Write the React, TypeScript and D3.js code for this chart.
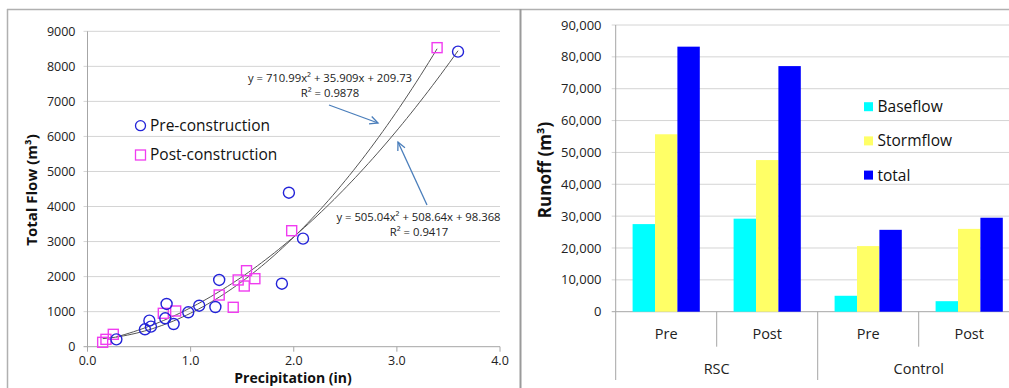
import React from "react";
import * as d3 from "d3";

// Left panel: storm events, precipitation vs total flow
const preX = [0.28, 0.557, 0.6, 0.615, 0.754, 0.767, 0.835, 0.977, 1.083, 1.24, 1.277, 1.885, 1.953, 2.09, 3.593];
const preY = [210, 497, 743, 572, 810, 1219, 648, 981, 1170, 1133, 1904, 1798, 4395, 3083, 8420];
const postX = [0.147, 0.179, 0.25, 0.735, 0.855, 1.277, 1.413, 1.461, 1.542, 1.52, 1.623, 1.98, 3.39];
const postY = [125, 210, 353, 953, 1019, 1475, 1124, 1904, 2169, 1732, 1941, 3310, 8533];
// quadratic trendline coefficients [a, b, c] for y = a x^2 + b x + c
const preFit = [505.04, 508.64, 98.368];
const postFit = [710.99, 35.909, 209.73];
const flowTicks = [0, 1000, 2000, 3000, 4000, 5000, 6000, 7000, 8000, 9000];
const precipTicks = [0, 1, 2, 3, 4];

// Right panel: runoff totals by site and period
const sites = ["RSC", "Control"];
const periods = ["Pre", "Post"];
const components = ["Baseflow", "Stormflow", "total"];
const baseflow = [27500, 29200, 5000, 3300];
const stormflow = [55700, 47600, 20600, 26000];
const totalFlow = [83200, 77100, 25700, 29500];
const runoffTicks = [0, 10000, 20000, 30000, 40000, 50000, 60000, 70000, 80000, 90000];

const FONT = "'Open Sans', 'Noto Sans', sans-serif";
const GRID = "#d4d4d4";
const AXIS = "#a6a6a6";
const PRE_COLOR = "#2323d8";
const POST_COLOR = "#f03cf0";
const ARROW = "#4a7ebb";
const compColors = ["#00ffff", "#ffff66", "#0000ff"];

function Arrow({ x1, y1, x2, y2 }: { x1: number; y1: number; x2: number; y2: number }) {
  const ang = Math.atan2(y1 - y2, x1 - x2);
  const len = 9;
  const spread = 0.45;
  const a1 = [x2 + len * Math.cos(ang + spread), y2 + len * Math.sin(ang + spread)];
  const a2 = [x2 + len * Math.cos(ang - spread), y2 + len * Math.sin(ang - spread)];
  return (
    <g stroke={ARROW} strokeWidth={1.3} fill="none">
      <line x1={x1} y1={y1} x2={x2} y2={y2} />
      <polyline points={`${a1[0]},${a1[1]} ${x2},${y2} ${a2[0]},${a2[1]}`} />
    </g>
  );
}

function ScatterPanel() {
  const x = d3.scaleLinear().domain([0, 4]).range([87.5, 500]);
  const y = d3.scaleLinear().domain([0, 9000]).range([346.7, 31.3]);
  const fitLine = d3
    .line<number>()
    .x((v) => x(v))
    .curve(d3.curveLinear);
  const fitPath = (coef: number[], xs: number[]) => {
    const lo = d3.min(xs) as number;
    const hi = d3.max(xs) as number;
    const pts = d3.range(0, 81).map((i) => lo + ((hi - lo) * i) / 80);
    return fitLine.y((v) => y(coef[0] * v * v + coef[1] * v + coef[2]))(pts) || "";
  };
  const [x0, x1] = x.range();
  return (
    <g>
      {flowTicks.map((t) => (
        <g key={t}>
          <line x1={x0 - 4} x2={x1} y1={y(t)} y2={y(t)} stroke={t === 0 ? AXIS : GRID} strokeWidth={1} />
          <text x={x0 - 12} y={y(t)} dy="0.35em" textAnchor="end" fontSize={12.5} fill="#222">
            {t}
          </text>
        </g>
      ))}
      <line x1={x0} x2={x0} y1={y(9000)} y2={y(0)} stroke={AXIS} />
      {precipTicks.map((t) => (
        <g key={t}>
          <line x1={x(t)} x2={x(t)} y1={y(0)} y2={y(0) + 5} stroke={AXIS} />
          <text x={x(t)} y={y(0) + 14} dy="0.35em" textAnchor="middle" fontSize={12.5} fill="#222">
            {t.toFixed(1)}
          </text>
        </g>
      ))}
      <path d={fitPath(postFit, postX)} fill="none" stroke="#555" strokeWidth={1} />
      <path d={fitPath(preFit, preX)} fill="none" stroke="#555" strokeWidth={1} />
      {postX.map((v, i) => (
        <rect key={"s" + i} x={x(v) - 5} y={y(postY[i]) - 5} width={10} height={10} fill="none" stroke={POST_COLOR} strokeWidth={1.4} />
      ))}
      {preX.map((v, i) => (
        <circle key={"c" + i} cx={x(v)} cy={y(preY[i])} r={5.5} fill="none" stroke={PRE_COLOR} strokeWidth={1.4} />
      ))}
      {/* legend */}
      <circle cx={140.5} cy={125.7} r={5} fill="none" stroke={PRE_COLOR} strokeWidth={1.3} />
      <text x={150} y={125.7} dy="0.35em" fontSize={15.5} fill="#111">Pre-construction</text>
      <rect x={135.5} y={150} width={10} height={10} fill="none" stroke={POST_COLOR} strokeWidth={1.3} />
      <text x={150} y={155} dy="0.35em" fontSize={15.5} fill="#111">Post-construction</text>
      {/* trendline equations */}
      <text x={330} y={78} dy="0.35em" textAnchor="middle" fontSize={11.3} fill="#222">
        {`y = ${postFit[0]}x² + ${postFit[1]}x + ${postFit[2]}`}
      </text>
      <text x={330} y={93.5} dy="0.35em" textAnchor="middle" fontSize={11.3} fill="#222">R² = 0.9878</text>
      <text x={418.5} y={217} dy="0.35em" textAnchor="middle" fontSize={11.3} fill="#222">
        {`y = ${preFit[0]}x² + ${preFit[1]}x + ${preFit[2]}`}
      </text>
      <text x={419} y={232} dy="0.35em" textAnchor="middle" fontSize={11.3} fill="#222">R² = 0.9417</text>
      <Arrow x1={329} y1={105} x2={378} y2={123} />
      <Arrow x1={427} y1={205} x2={398} y2={142} />
      {/* axis titles */}
      <text x={293} y={378.5} dy="0.35em" textAnchor="middle" fontSize={14} fontWeight="bold" fill="#111">
        Precipitation (in)
      </text>
      <text transform="translate(32,190) rotate(-90)" dy="0.35em" textAnchor="middle" fontSize={15} fontWeight="bold" fill="#111">
        Total Flow (m³)
      </text>
    </g>
  );
}

function BarPanel() {
  const cats = sites.flatMap((s) => periods.map((p) => `${s}|${p}`));
  const x = d3.scaleBand<string>().domain(cats).range([615.7, 1019.7]).paddingInner(0).paddingOuter(0);
  const inner = d3.scaleBand<string>().domain(components).range([0, 67.2]);
  const y = d3.scaleLinear().domain([0, 90000]).range([311.7, 25]);
  const series = [baseflow, stormflow, totalFlow];
  const bw = x.bandwidth();
  const x0 = x.range()[0];
  const axisY = y(0);
  return (
    <g>
      {runoffTicks.map((t) => (
        <g key={t}>
          <line x1={x0 - 4} x2={1009} y1={y(t)} y2={y(t)} stroke={t === 0 ? AXIS : GRID} />
          <text x={601.5} y={y(t)} dy="0.35em" textAnchor="end" fontSize={13} fill="#222">
            {d3.format(",")(t)}
          </text>
        </g>
      ))}
      <line x1={x0} x2={x0} y1={y(90000)} y2={axisY} stroke={AXIS} />
      {cats.map((c, ci) => {
        const left = (x(c) as number) + (bw - 67.2) / 2;
        return (
          <g key={c}>
            {components.map((k, si) => (
              <rect
                key={k}
                x={left + (inner(k) as number)}
                y={y(series[si][ci])}
                width={inner.bandwidth()}
                height={axisY - y(series[si][ci])}
                fill={compColors[si]}
              />
            ))}
            <text x={(x(c) as number) + bw / 2} y={334} dy="0.35em" textAnchor="middle" fontSize={14.5} fill="#222">
              {c.split("|")[1]}
            </text>
          </g>
        );
      })}
      {/* category separators */}
      {cats.map((c, ci) => {
        const xx = x(c) as number;
        const groupEdge = ci % periods.length === 0;
        return <line key={"sep" + c} x1={xx} x2={xx} y1={axisY} y2={groupEdge ? 380 : 346.7} stroke={AXIS} />;
      })}
      {sites.map((s) => {
        const start = x(`${s}|${periods[0]}`) as number;
        return (
          <text key={s} x={start + bw} y={369} dy="0.35em" textAnchor="middle" fontSize={14.5} fill="#222">
            {s}
          </text>
        );
      })}
      {/* legend */}
      {components.map((k, i) => (
        <g key={k}>
          <rect x={864} y={102.2 + i * 34.2} width={9} height={9} fill={compColors[i]} />
          <text x={877.5} y={106.7 + i * 34.2} dy="0.35em" fontSize={15.5} fill="#111">{k}</text>
        </g>
      ))}
      <text transform="translate(545,170) rotate(-90)" dy="0.35em" textAnchor="middle" fontSize={17} fontWeight="bold" fill="#111">
        Runoff (m³)
      </text>
    </g>
  );
}

export default function App() {
  return (
    <div style={{ position: "absolute", left: 0, top: 0 }}>
      <svg width={1009} height={388} style={{ display: "block", fontFamily: FONT, background: "#fff" }}>
        <rect width={1009} height={388} fill="#fff" />
        {/* panel frames */}
        <line x1={7} x2={1009} y1={9.5} y2={9.5} stroke="#b0b0b0" strokeWidth={1.5} />
        <line x1={7.5} x2={7.5} y1={9} y2={388} stroke="#b0b0b0" strokeWidth={1.5} />
        <line x1={520.5} x2={520.5} y1={9} y2={388} stroke="#9a9a9a" strokeWidth={2} />
        <ScatterPanel />
        <BarPanel />
      </svg>
    </div>
  );
}
